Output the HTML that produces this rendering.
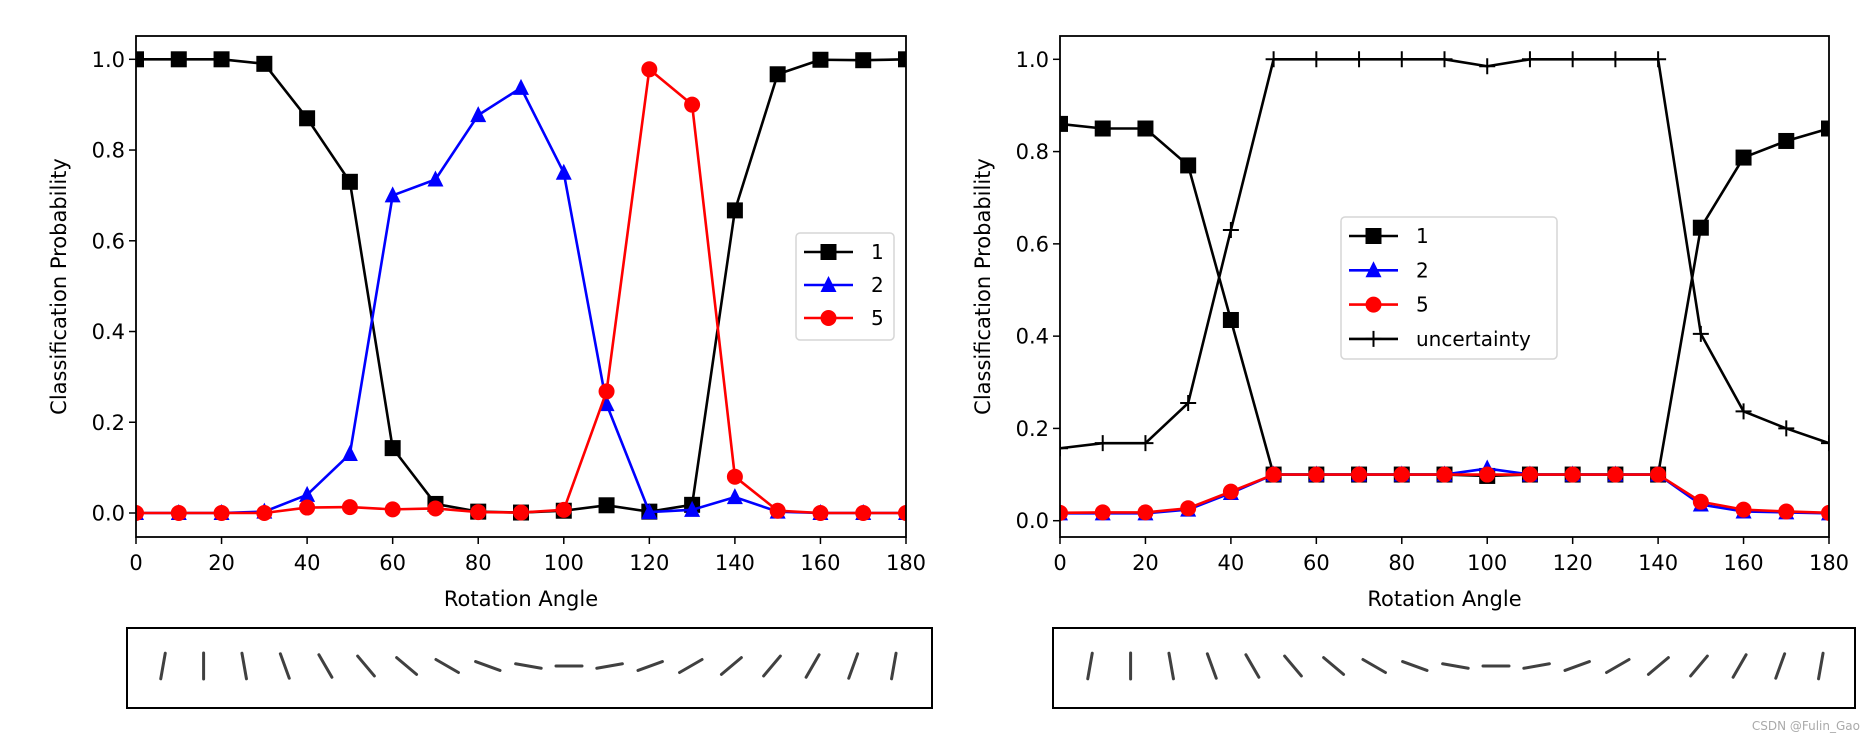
<!DOCTYPE html>
<html><head><meta charset="utf-8"><style>
html,body{margin:0;padding:0;background:#fff;}
svg{display:block;font-family:"DejaVu Sans","Liberation Sans",sans-serif;}
</style></head><body>
<svg id="fig" width="1866" height="736" viewBox="0 0 1866 736" xmlns="http://www.w3.org/2000/svg"></svg>
<script>
const angles=[0,10,20,30,40,50,60,70,80,90,100,110,120,130,140,150,160,170,180];
const xTicks=[0,20,40,60,80,100,120,140,160,180];
const yTicks=[0.0,0.2,0.4,0.6,0.8,1.0];
const left1=[1,1,1,0.99,0.87,0.73,0.143,0.02,0.003,0.001,0.005,0.017,0.003,0.018,0.667,0.967,0.999,0.998,1.0];
const left2=[0,0,0,0.003,0.04,0.13,0.70,0.735,0.877,0.937,0.75,0.24,0.002,0.007,0.035,0.003,0,0,0];
const left5=[0,0,0,0,0.012,0.013,0.008,0.01,0.002,0.001,0.007,0.268,0.978,0.9,0.08,0.005,0,0,0];
const right1=[0.86,0.85,0.85,0.77,0.435,0.1,0.1,0.1,0.1,0.1,0.097,0.1,0.1,0.1,0.1,0.635,0.787,0.823,0.85];
const right2=[0.016,0.016,0.016,0.024,0.06,0.1,0.1,0.1,0.1,0.1,0.113,0.1,0.1,0.1,0.1,0.035,0.02,0.018,0.016];
const right5=[0.017,0.018,0.018,0.027,0.063,0.1,0.1,0.1,0.1,0.1,0.1,0.1,0.1,0.1,0.1,0.041,0.024,0.02,0.017];
const rightU=[0.157,0.168,0.168,0.255,0.63,1,1,1,1,1,0.985,1,1,1,1,0.405,0.237,0.2,0.168];

const NS="http://www.w3.org/2000/svg";
const svg=document.getElementById('fig');
function mk(tag,attrs,parent){const e=document.createElementNS(NS,tag);for(const k in attrs)e.setAttribute(k,attrs[k]);(parent||svg).appendChild(e);return e;}

function marker(g,type,x,y,color){
  let m;
  if(type==='square'){m=mk('rect',{x:x-8,y:y-8,width:16,height:16,fill:color},g);}
  else if(type==='tri'){m=mk('polygon',{points:`${x},${y-9} ${x-8},${y+7} ${x+8},${y+7}`,fill:color},g);}
  else if(type==='circle'){m=mk('circle',{cx:x,cy:y,r:8,fill:color},g);}
  else {m=mk('path',{d:`M${x-8},${y}H${x+8}M${x},${y-8}V${y+8}`,stroke:color,'stroke-width':2,fill:'none'},g);}
  return m;
}

function panel(name,ax,series,legend){
  const L=ax.l,R=ax.r,T=36,B=537;
  const xs=v=>L+(v-0)/(180)*(R-L);
  const ys=v=>ax.y0+(ax.y1-ax.y0)*v;
  const g=mk('g',{});
  
  
  const clipId=name+'-clip';
  const cp=mk('clipPath',{id:clipId},g);
  mk('rect',{x:L,y:T,width:R-L,height:B-T},cp);
  xTicks.forEach(t=>{
    const x=xs(t);
    mk('line',{x1:x,y1:B,x2:x,y2:B+7,stroke:'#000','stroke-width':1.5},g);
    const tx=mk('text',{x:x,y:B+33,'font-size':21,'text-anchor':'middle',fill:'#000'},g);
    tx.textContent=t;
    
    
  });
  yTicks.forEach(t=>{
    const y=ys(t);
    mk('line',{x1:L-7,y1:y,x2:L,y2:y,stroke:'#000','stroke-width':1.5},g);
    const tx=mk('text',{x:L-11,y:y+7.5,'font-size':21,'text-anchor':'end',fill:'#000'},g);
    tx.textContent=t.toFixed(1);
    
    
  });
  const xl=mk('text',{x:(L+R)/2,y:606,'font-size':21,'text-anchor':'middle',fill:'#000'},g);
  xl.textContent='Rotation Angle';
  
  
  const yl=mk('text',{x:0,y:0,'font-size':21,'text-anchor':'middle',fill:'#000',transform:`translate(${L-70},${(T+B)/2}) rotate(-90)`},g);
  yl.textContent='Classification Probability';
  
  
  const plot=mk('g',{'clip-path':`url(#${clipId})`},g);
  series.forEach(s=>{
    const sg=mk('g',{},plot);
    
    
    const pts=s.data.map((v,i)=>xs(angles[i])+','+ys(v)).join(' ');
    mk('polyline',{points:pts,fill:'none',stroke:s.color,'stroke-width':2.6,'stroke-linejoin':'round'},sg);
    s.data.forEach((v,i)=>{const m=marker(sg,s.m,xs(angles[i]),ys(v),s.color);
      
      });
  });
  mk('rect',{x:L,y:T,width:R-L,height:B-T,fill:'none',stroke:'#000','stroke-width':1.8},g);
  const lg=mk('g',{},g);
  
  
  mk('rect',{x:legend.x,y:legend.y,width:legend.w,height:legend.h,rx:4,fill:'#fff','fill-opacity':0.85,stroke:'#d6d6d6','stroke-width':1.5},lg);
  series.forEach((s,i)=>{
    const y=legend.y+19+i*legend.dy;
    const eg=mk('g',{},lg);
    
    
    mk('line',{x1:legend.x+8,y1:y,x2:legend.x+57,y2:y,stroke:s.color,'stroke-width':2.6},eg);
    marker(eg,s.m,legend.x+32.5,y,s.color);
    const t=mk('text',{x:legend.x+75,y:y+7,'font-size':20,fill:'#000'},eg);
    t.textContent=s.label;
  });
}

panel('left-chart',{l:136,r:906,y0:513,y1:59.3},[
  {label:'1',data:left1,color:'#000',m:'square'},
  {label:'2',data:left2,color:'#0000ff',m:'tri'},
  {label:'5',data:left5,color:'#ff0000',m:'circle'}],
  {x:796,y:233,w:98,h:107,dy:33});
panel('right-chart',{l:1060,r:1829,y0:520.7,y1:59.3},[
  {label:'1',data:right1,color:'#000',m:'square'},
  {label:'2',data:right2,color:'#0000ff',m:'tri'},
  {label:'5',data:right5,color:'#ff0000',m:'circle'},
  {label:'uncertainty',data:rightU,color:'#000',m:'plus'}],
  {x:1341,y:217,w:216,h:142,dy:34.3});

function strip(name,bx,bw,firstX){
  const g=mk('g',{});
  
  
  mk('rect',{x:bx,y:628,width:bw,height:80,fill:'#fff',stroke:'#000','stroke-width':2},g);
  angles.forEach((a,i)=>{
    const cx=firstX+i*40.6, cy=666;
    const l=mk('line',{x1:cx,y1:cy-13,x2:cx,y2:cy+13,stroke:'#111','stroke-width':3,'stroke-linecap':'round',opacity:0.8,transform:`rotate(${10-a} ${cx} ${cy})`},g);
    
    
  });
}
strip('left-digit-strip',127,805,163);
strip('right-digit-strip',1053,802,1090);

const wm=mk('text',{x:1860,y:730,'font-size':12,'text-anchor':'end',fill:'#aaa'});
wm.textContent='CSDN @Fulin_Gao';


</script>
</body></html>
